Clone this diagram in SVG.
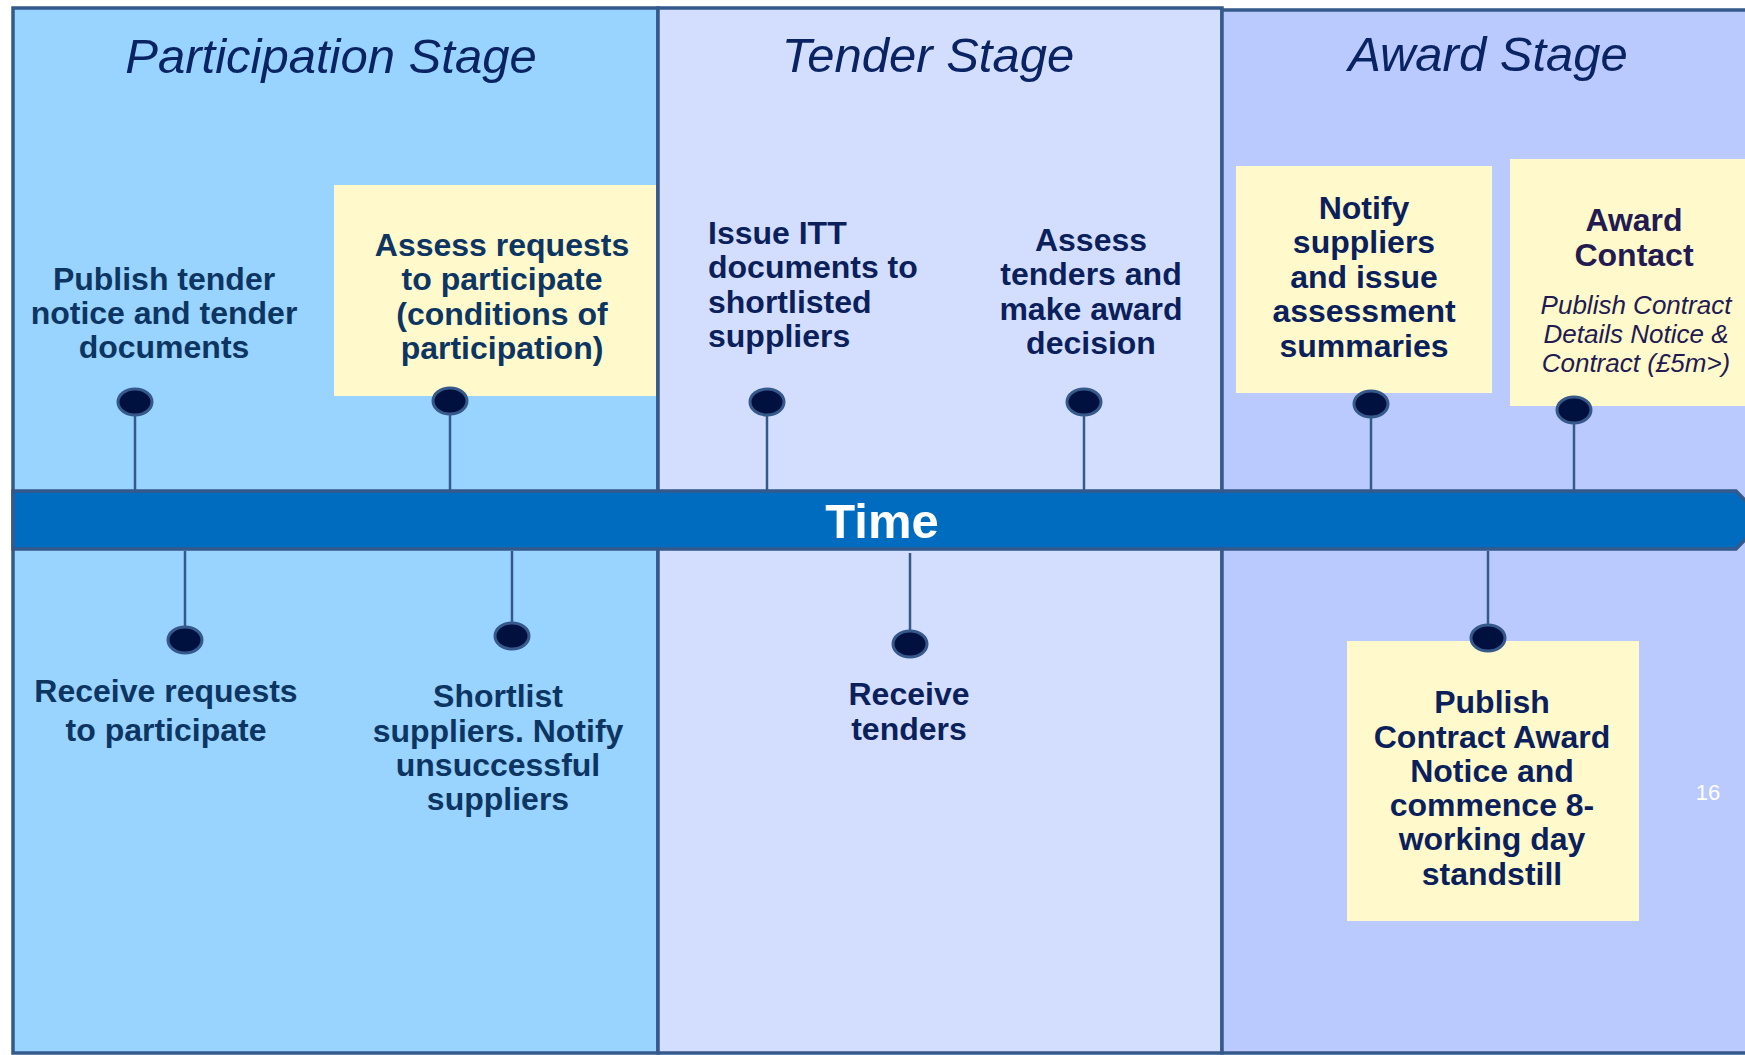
<svg xmlns="http://www.w3.org/2000/svg" width="1745" height="1055" viewBox="0 0 1745 1055">
<style>
  .panel { stroke: #35598A; stroke-width: 3.5; }
  .title { font-family: "Liberation Sans", Arial, sans-serif; font-style: italic; font-size: 49px; fill: #0A2463; text-anchor: middle; }
  .lbl { font-family: "Liberation Sans", Arial, sans-serif; font-weight: bold; font-size: 32px; text-anchor: middle; }
  .lbl.left { text-anchor: start; }
  .p { fill: #0D3562; }
  .t { fill: #0B1F5B; }
  .ac { fill: #221A50; }
  .note { fill: #FFF9CC; }
  .pin { fill: #00103F; stroke: #35598A; stroke-width: 3; }
  .stem { stroke: #35598A; stroke-width: 2.5; fill: none; }
  .it { font-family: "Liberation Sans", Arial, sans-serif; font-style: italic; font-size: 26px; fill: #221A50; text-anchor: middle; }
</style>
<rect width="1745" height="1055" fill="#FFFFFF"/>
<g id="panels">
  <rect class="panel" x="13" y="8" width="645" height="1045" fill="#99D3FF"/>
  <rect class="panel" x="658" y="8" width="564" height="1045" fill="#D3DEFE"/>
  <rect class="panel" x="1222" y="10" width="540" height="1043" fill="#BACAFE"/>
</g>
<g id="stage-titles">
  <text class="title" x="331" y="73">Participation Stage</text>
  <text class="title" x="928" y="72">Tender Stage</text>
  <text class="title" x="1488" y="71">Award Stage</text>
</g>
<g id="time-bar">
  <polygon points="13,491 1736,491 1764,520 1736,549 13,549" fill="#006CBF" stroke="#35598A" stroke-width="3.5"/>
  <text x="882" y="538" font-family="Liberation Sans, Arial, sans-serif" font-weight="bold" font-size="49" fill="#FFFFFF" text-anchor="middle">Time</text>
</g>
<g id="connectors">
  <line class="stem" x1="135" y1="402" x2="135" y2="491"/>
  <line class="stem" x1="450" y1="401" x2="450" y2="491"/>
  <line class="stem" x1="767" y1="402" x2="767" y2="491"/>
  <line class="stem" x1="1084" y1="402" x2="1084" y2="491"/>
  <line class="stem" x1="1371" y1="404" x2="1371" y2="491"/>
  <line class="stem" x1="1574" y1="410" x2="1574" y2="491"/>
  <line class="stem" x1="185" y1="551" x2="185" y2="640"/>
  <line class="stem" x1="512" y1="551" x2="512" y2="636"/>
  <line class="stem" x1="910" y1="553" x2="910" y2="644"/>
  <line class="stem" x1="1488" y1="551" x2="1488" y2="638"/>
</g>
<g id="publish-tender">
  <text class="lbl p" x="164" y="290">Publish tender</text>
  <text class="lbl p" x="164" y="324">notice and tender</text>
  <text class="lbl p" x="164" y="358">documents</text>
  <ellipse class="pin" cx="135" cy="402" rx="17" ry="13"/>
</g>
<g id="assess-requests">
  <rect class="note" x="334" y="185" width="322" height="211"/>
  <text class="lbl p" x="502" y="256">Assess requests</text>
  <text class="lbl p" x="502" y="290">to participate</text>
  <text class="lbl p" x="502" y="325">(conditions of</text>
  <text class="lbl p" x="502" y="359">participation)</text>
  <ellipse class="pin" cx="450" cy="401" rx="17" ry="13"/>
</g>
<g id="issue-itt">
  <text class="lbl left t" x="708" y="244">Issue ITT</text>
  <text class="lbl left t" x="708" y="278">documents to</text>
  <text class="lbl left t" x="708" y="313">shortlisted</text>
  <text class="lbl left t" x="708" y="347">suppliers</text>
  <ellipse class="pin" cx="767" cy="402" rx="17" ry="13"/>
</g>
<g id="assess-tenders">
  <text class="lbl t" x="1091" y="251">Assess</text>
  <text class="lbl t" x="1091" y="285">tenders and</text>
  <text class="lbl t" x="1091" y="320">make award</text>
  <text class="lbl t" x="1091" y="354">decision</text>
  <ellipse class="pin" cx="1084" cy="402" rx="17" ry="13"/>
</g>
<g id="notify-suppliers">
  <rect class="note" x="1236" y="166" width="256" height="227"/>
  <text class="lbl t" x="1364" y="219">Notify</text>
  <text class="lbl t" x="1364" y="253">suppliers</text>
  <text class="lbl t" x="1364" y="288">and issue</text>
  <text class="lbl t" x="1364" y="322">assessment</text>
  <text class="lbl t" x="1364" y="357">summaries</text>
  <ellipse class="pin" cx="1371" cy="404" rx="17" ry="13"/>
</g>
<g id="award-contact">
  <rect class="note" x="1510" y="159" width="240" height="247"/>
  <text class="lbl ac" x="1634" y="231">Award</text>
  <text class="lbl ac" x="1634" y="266">Contact</text>
  <text class="it" x="1636" y="314">Publish Contract</text>
  <text class="it" x="1636" y="343">Details Notice &amp;</text>
  <text class="it" x="1636" y="372">Contract (£5m&gt;)</text>
  <ellipse class="pin" cx="1574" cy="410" rx="17" ry="13"/>
</g>
<g id="receive-requests">
  <ellipse class="pin" cx="185" cy="640" rx="17" ry="13"/>
  <text class="lbl p" x="166" y="702">Receive requests</text>
  <text class="lbl p" x="166" y="741">to participate</text>
</g>
<g id="shortlist">
  <ellipse class="pin" cx="512" cy="636" rx="17" ry="13"/>
  <text class="lbl p" x="498" y="707">Shortlist</text>
  <text class="lbl p" x="498" y="742">suppliers. Notify</text>
  <text class="lbl p" x="498" y="776">unsuccessful</text>
  <text class="lbl p" x="498" y="810">suppliers</text>
</g>
<g id="receive-tenders">
  <ellipse class="pin" cx="910" cy="644" rx="17" ry="13"/>
  <text class="lbl t" x="909" y="705">Receive</text>
  <text class="lbl t" x="909" y="740">tenders</text>
</g>
<g id="publish-award-notice">
  <rect class="note" x="1347" y="641" width="292" height="280"/>
  <ellipse class="pin" cx="1488" cy="638" rx="17" ry="13"/>
  <text class="lbl t" x="1492" y="713">Publish</text>
  <text class="lbl t" x="1492" y="748">Contract Award</text>
  <text class="lbl t" x="1492" y="782">Notice and</text>
  <text class="lbl t" x="1492" y="816">commence 8-</text>
  <text class="lbl t" x="1492" y="850">working day</text>
  <text class="lbl t" x="1492" y="885">standstill</text>
</g>
<text x="1708" y="800" font-family="Liberation Sans, Arial, sans-serif" font-size="22" fill="#FFFFFF" text-anchor="middle">16</text>
</svg>
